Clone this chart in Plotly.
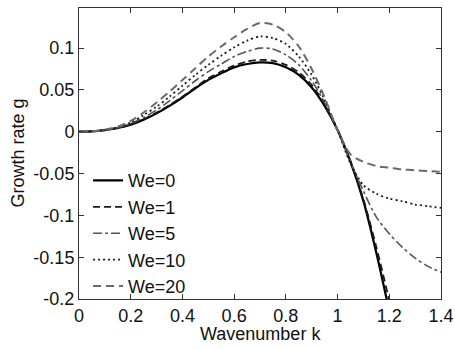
import plotly.graph_objects as go

k_main = [0, 0.05, 0.1, 0.15, 0.2, 0.25, 0.3, 0.35, 0.4, 0.45, 0.5, 0.55, 0.6, 0.65,
          0.7, 0.75, 0.8, 0.85, 0.9, 0.95, 1.0, 1.05, 1.1, 1.15, 1.2, 1.25]
k_full = [0, 0.05, 0.1, 0.15, 0.2, 0.25, 0.3, 0.35, 0.4, 0.45, 0.5, 0.55, 0.6, 0.65,
          0.7, 0.75, 0.8, 0.85, 0.9, 0.95, 1.0, 1.05, 1.1, 1.15, 1.2, 1.25, 1.3, 1.35, 1.4]

g_we0 = [0, 0.0005, 0.002, 0.0045, 0.0085, 0.0145, 0.022, 0.031, 0.041, 0.052, 0.062, 0.070,
         0.077, 0.081, 0.083, 0.082, 0.077, 0.068, 0.053, 0.031, 0.002, -0.036, -0.083,
         -0.145, -0.215, -0.29]
g_we1 = [0, 0.0005, 0.002, 0.0045, 0.0087, 0.015, 0.023, 0.032, 0.042, 0.053, 0.064, 0.072,
         0.079, 0.084, 0.086, 0.085, 0.080, 0.071, 0.056, 0.033, 0.002, -0.035, -0.081,
         -0.138, -0.202, -0.27]
g_we5 = [0, 0.0005, 0.002, 0.005, 0.010, 0.017, 0.026, 0.037, 0.049, 0.061, 0.072, 0.081,
         0.090, 0.096, 0.100, 0.099, 0.092, 0.080, 0.061, 0.035, 0.002, -0.036, -0.071,
         -0.102, -0.122, -0.138, -0.151, -0.161, -0.168]
g_we10 = [0, 0.0005, 0.0022, 0.0055, 0.011, 0.020, 0.030, 0.042, 0.055, 0.068, 0.080, 0.091,
          0.101, 0.109, 0.114, 0.112, 0.105, 0.090, 0.068, 0.038, 0.002, -0.038, -0.064,
          -0.074, -0.080, -0.083, -0.087, -0.089, -0.091]
g_we20 = [0, 0.0005, 0.0025, 0.006, 0.013, 0.023, 0.035, 0.048, 0.062, 0.076, 0.090, 0.102,
          0.113, 0.123, 0.130, 0.128, 0.119, 0.102, 0.075, 0.041, 0.002, -0.027, -0.036,
          -0.041, -0.043, -0.045, -0.046, -0.047, -0.048]

x_ticks = [0, 0.2, 0.4, 0.6, 0.8, 1.0, 1.2, 1.4]
x_tick_labels = ["0", "0.2", "0.4", "0.6", "0.8", "1", "1.2", "1.4"]
y_ticks = [-0.2, -0.15, -0.1, -0.05, 0, 0.05, 0.1]
y_tick_labels = ["-0.2", "-0.15", "-0.1", "-0.05", "0", "0.05", "0.1"]
x_title = "Wavenumber k"
y_title = "Growth rate g"

series = [
    ("We=0", k_main, g_we0, "#000000", "solid", 2.2),
    ("We=1", k_main, g_we1, "#1a1a1a", "7px,4px", 1.8),
    ("We=5", k_full, g_we5, "#555555", "dashdot", 1.6),
    ("We=10", k_full, g_we10, "#1a1a1a", "2px,3px", 1.8),
    ("We=20", k_full, g_we20, "#6a6a6a", "8px,5px", 2.0),
]

fig = go.Figure()
for name, xs, ys, color, dash, w in series:
    fig.add_trace(go.Scatter(
        x=xs, y=ys, mode="lines", name=name, hoverinfo="skip",
        line=dict(color=color, dash=dash, width=w, shape="spline", smoothing=0.8),
    ))

font_family = "Liberation Sans, Arial, sans-serif"
fig.update_layout(
    width=455, height=349,
    margin=dict(l=79, r=14, t=8, b=50),
    paper_bgcolor="white", plot_bgcolor="white",
    font=dict(family=font_family, size=18, color="#111111"),
    showlegend=True,
    hovermode=False,
    legend=dict(
        x=0.025, y=0.47, xanchor="left", yanchor="top",
        bgcolor="rgba(255,255,255,0)", borderwidth=0,
        font=dict(size=18, color="#111111"),
        itemwidth=30, tracegroupgap=0,
    ),
    xaxis=dict(
        range=[0, 1.4], tickvals=x_ticks, ticktext=x_tick_labels,
        ticks="inside", ticklen=5, tickcolor="#333333",
        showline=True, linecolor="#333333", linewidth=1, mirror="ticks",
        showgrid=False, zeroline=False, automargin=False,
        ticklabeloverflow="allow",
    ),
    yaxis=dict(
        range=[-0.2, 0.148], tickvals=y_ticks, ticktext=y_tick_labels,
        ticks="inside", ticklen=5, tickcolor="#333333",
        showline=True, linecolor="#333333", linewidth=1, mirror="ticks",
        showgrid=False, zeroline=False, automargin=False,
        ticklabeloverflow="allow",
    ),
    annotations=[
        dict(text=x_title, xref="paper", yref="paper", x=0.5, y=0,
             xanchor="center", yanchor="middle", yshift=-35, showarrow=False,
             font=dict(size=18, color="#111111")),
        dict(text=y_title, xref="paper", yref="paper", x=0, y=0.5,
             xanchor="center", yanchor="middle", xshift=-62, textangle=-90,
             showarrow=False, font=dict(size=18, color="#111111")),
    ],
)

fig.write_html(
    "out.html",
    config={"displayModeBar": False},
    post_script="document.body.style.margin='0';document.documentElement.style.overflow='hidden';",
)
